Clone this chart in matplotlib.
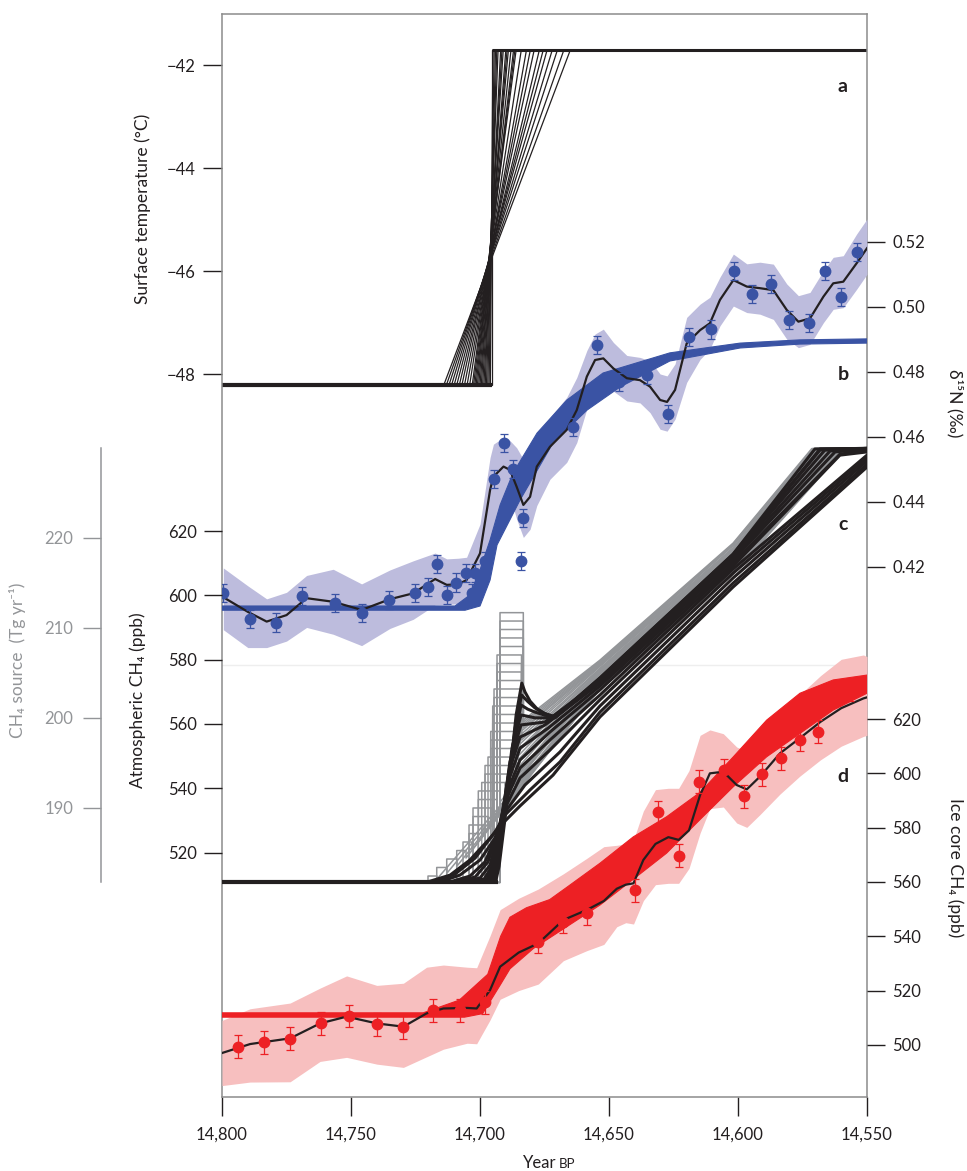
import numpy as np
import matplotlib.pyplot as plt
from matplotlib.ticker import FuncFormatter, FormatStrFormatter

plt.rcParams['font.family'] = ['Lato', 'DejaVu Sans']
plt.rcParams['axes.unicode_minus'] = True

INK = '#231f20'
SPINE = '#8c8c8c'
GREY = '#939598'
BLUE = '#3a53a4'
LAVENDER = '#bdbcdd'
RED = '#ed2024'
PINK = '#f7bfbf'

year_ticks = [14800, 14750, 14700, 14650, 14600, 14550]

# ---- a: surface temperature ramps (deg C)
temp_cold = -48.2
temp_warm = -41.7
ramp_start = [14695.5, 14696.0, 14696.5, 14697.0, 14697.5, 14698.0, 14698.5, 14699.0, 14699.5,
              14700.0, 14700.5, 14701.0, 14701.5, 14702.0, 14702.5, 14703.0, 14704.0, 14705.0,
              14706.0, 14707.0, 14708.0, 14709.0, 14710.0, 14711.0, 14712.0, 14713.0, 14714.0]
ramp_end = [14695.5, 14695.0, 14694.5, 14694.0, 14693.5, 14693.0, 14692.0, 14691.5, 14691.0,
            14690.0, 14689.5, 14689.0, 14688.0, 14687.0, 14686.5, 14686.0, 14684.0, 14682.0,
            14680.5, 14679.0, 14677.0, 14675.5, 14674.0, 14672.0, 14670.0, 14667.5, 14665.0]

# ---- b: d15N (permil)
n15_yr = [14799.5, 14789.1, 14779.1, 14768.9, 14756.2, 14745.9, 14735.4, 14725.1, 14720.3, 14716.7,
          14712.9, 14709.4, 14705.5, 14703.2, 14701.8, 14698.1, 14694.6, 14690.7, 14687.1, 14683.2,
          14684.1, 14663.8, 14654.8, 14646.0, 14635.4, 14627.3, 14619.0, 14610.5, 14601.6, 14594.4,
          14587.3, 14580.2, 14572.5, 14566.3, 14560.1, 14554.0]
n15_val = [0.4118, 0.4038, 0.4028, 0.4110, 0.4089, 0.4058, 0.4097, 0.4118, 0.4137, 0.4208,
           0.4113, 0.4151, 0.4180, 0.4120, 0.4180, 0.4218, 0.4469, 0.4580, 0.4500, 0.4349,
           0.4218, 0.4631, 0.4882, 0.4769, 0.4790, 0.4669, 0.4908, 0.4930, 0.5110, 0.5038,
           0.5070, 0.4959, 0.4951, 0.5110, 0.5029, 0.5169]
n15_err = 0.0028

n15_fit_yr = [14799.5, 14790.0, 14782.7, 14775.0, 14767.2, 14756.9, 14745.9, 14734.9, 14725.9, 14717.4,
              14712.9, 14708.4, 14705.2, 14700.0, 14696.1, 14694.8, 14690.9, 14688.4, 14685.8, 14683.2,
              14680.6, 14678.0, 14672.9, 14666.4, 14662.5, 14658.6, 14655.4, 14652.2, 14648.3, 14643.1,
              14638.0, 14634.1, 14630.2, 14627.5, 14624.4, 14619.9, 14614.7, 14610.9, 14607.0, 14601.8,
              14596.6, 14591.5, 14586.3, 14581.1, 14576.6, 14572.1, 14566.9, 14563.1, 14559.2, 14554.0,
              14550.0]
n15_fit = [0.4106, 0.4061, 0.4031, 0.4051, 0.4103, 0.4092, 0.4067, 0.4100, 0.4118, 0.4162,
           0.4144, 0.4146, 0.4159, 0.4241, 0.4436, 0.4477, 0.4508, 0.4498, 0.4446, 0.4390,
           0.4415, 0.4508, 0.4569, 0.4621, 0.4682, 0.4785, 0.4836, 0.4841, 0.4810, 0.4780,
           0.4774, 0.4754, 0.4713, 0.4707, 0.4744, 0.4887, 0.4928, 0.4949, 0.5021, 0.5082,
           0.5062, 0.5057, 0.5051, 0.4990, 0.4954, 0.4964, 0.5031, 0.5072, 0.5077, 0.5134,
           0.5180]
n15_hw_up = [0.009, 0.008, 0.007, 0.007, 0.007, 0.010, 0.008, 0.009, 0.010, 0.008,
             0.008, 0.008, 0.007, 0.009, 0.010, 0.010, 0.009, 0.009, 0.012, 0.014,
             0.014, 0.010, 0.009, 0.010, 0.010, 0.008, 0.008, 0.009, 0.008, 0.007,
             0.007, 0.008, 0.008, 0.008, 0.008, 0.008, 0.008, 0.008, 0.007, 0.008,
             0.007, 0.008, 0.008, 0.008, 0.008, 0.008, 0.008, 0.008, 0.008, 0.009,
             0.009]
n15_hw_lo = [0.010, 0.011, 0.008, 0.008, 0.009, 0.010, 0.011, 0.009, 0.008, 0.008,
             0.006, 0.006, 0.006, 0.012, 0.020, 0.015, 0.010, 0.008, 0.010, 0.010,
             0.010, 0.012, 0.010, 0.010, 0.010, 0.010, 0.009, 0.008, 0.007, 0.007,
             0.007, 0.008, 0.009, 0.009, 0.009, 0.012, 0.009, 0.008, 0.008, 0.008,
             0.008, 0.008, 0.009, 0.009, 0.008, 0.008, 0.008, 0.008, 0.008, 0.008,
             0.008]

n15_model_up_yr = [14800, 14709.7, 14703.9, 14700.0, 14696.1, 14692.2, 14687.2, 14677.9, 14666.3,
                   14652.3, 14626.4, 14599.2, 14576.0, 14550]
n15_model_up = [0.4079, 0.4079, 0.4113, 0.4190, 0.4282, 0.4390, 0.4488, 0.4611, 0.4713,
                0.4796, 0.4858, 0.4888, 0.4898, 0.4901]
n15_model_lo_yr = [14800, 14705.8, 14700.0, 14696.1, 14693.4, 14684.5, 14671.7, 14658.5, 14645.7,
                   14626.4, 14599.2, 14576.0, 14550]
n15_model_lo = [0.4066, 0.4066, 0.4079, 0.4159, 0.4267, 0.4405, 0.4581, 0.4682, 0.4753,
                0.4833, 0.4873, 0.4885, 0.4888]

# ---- c: CH4 source scenarios (Tg/yr)
src_base = 181.7
src_top = 229.9
pulse_start = [14692.25, 14692.25, 14692.25, 14692.25, 14692.25, 14693.41, 14693.41, 14693.41,
               14693.41, 14694.57, 14694.57, 14695.08, 14695.08, 14695.08, 14695.85, 14695.85,
               14695.85, 14696.90, 14698.06, 14698.06, 14699.34, 14700.66, 14700.66, 14702.71,
               14702.71, 14704.26, 14704.26, 14706.59, 14709.03, 14712.91, 14716.78, 14720.16]
pulse_end = [14683.22, 14683.22, 14683.22, 14683.22, 14683.22, 14683.91, 14683.91, 14683.91,
             14683.91, 14684.50, 14684.50, 14685.27, 14685.27, 14685.27, 14686.05, 14686.05,
             14686.05, 14687.21, 14688.37, 14689.15, 14690.31, 14692.25, 14693.41, 14695.35,
             14696.90, 14698.84, 14700.78, 14703.10, 14705.43, 14708.91, 14712.79, 14716.67]
pulse_peak = [211.67, 210.74, 209.80, 208.86, 207.91, 206.97, 206.02, 205.08,
              204.13, 203.19, 202.24, 201.30, 200.36, 199.41, 198.47, 197.52,
              196.58, 195.63, 194.69, 193.74, 192.80, 191.86, 190.91, 189.97,
              189.02, 188.08, 187.13, 186.19, 185.24, 184.30, 183.36, 182.41]
pulse_drop = [199.74, 199.52, 199.30, 199.08, 198.86, 198.52, 198.19, 197.86,
              197.52, 197.08, 196.63, 196.19, 195.74, 195.30, 194.74, 194.19,
              193.63, 193.08, 192.52, 191.97, 191.41, 190.63, 189.74, 188.86,
              187.97, 187.08, 186.19, 185.30, 184.41, 183.52, 182.74, 182.08]
ramp_nodes_yr = [14653.5, 14601.9]
src_mid1 = [206.4, 206.3, 206.2, 206.1, 206.0, 205.9, 205.8, 205.7, 205.5, 205.4, 205.3,
            205.2, 205.1, 205.0, 204.9, 204.8, 204.7, 204.6, 204.5, 204.4, 204.3, 204.2,
            204.0, 203.9, 203.8, 203.7, 203.6, 203.5, 203.4, 203.3, 203.2, 203.1]
src_mid2 = [219.4, 219.3, 219.2, 219.1, 218.9, 218.8, 218.7, 218.6, 218.5, 218.4, 218.3,
            218.2, 218.0, 217.9, 217.8, 217.7, 217.6, 217.5, 217.4, 217.2, 217.1, 217.0,
            216.9, 216.8, 216.7, 216.6, 216.4, 216.3, 216.2, 216.1, 216.0, 215.9]
src_top_yr = [14571.4, 14571.0, 14570.6, 14570.2, 14569.7, 14569.3, 14568.9, 14568.5, 14568.1,
              14567.7, 14567.2, 14566.8, 14566.4, 14566.0, 14565.6, 14565.2, 14564.8, 14564.3,
              14563.9, 14563.5, 14563.1, 14562.7, 14562.3, 14561.9, 14561.4, 14561.0, 14560.6,
              14560.2, 14559.8, 14559.4, 14558.9, 14558.5]

# ---- c: modelled atmospheric CH4 (ppb)
atm_base = 510.9
atm_runs = [
    [(14720.2, 510.9), (14711.6, 513.0), (14703.9, 517.7), (14696.1, 524.5), (14692.2, 528.3),
     (14684.5, 534.5), (14671.7, 544.1), (14653.5, 562.2), (14601.9, 602.6), (14550, 639.9)],
    [(14718.2, 510.9), (14709.7, 513.3), (14701.9, 518.3), (14694.2, 526.4), (14690.3, 531.7),
     (14680.6, 539.5), (14669.0, 548.2), (14653.5, 563.7), (14601.9, 603.8), (14550, 640.8)],
    [(14715.5, 510.9), (14707.8, 513.0), (14700.0, 517.7), (14694.2, 524.5), (14690.3, 532.6),
     (14682.6, 541.0), (14669.0, 551.3), (14653.5, 565.6), (14601.9, 605.4), (14550, 641.8)],
    [(14711.6, 510.9), (14703.9, 512.7), (14698.1, 517.1), (14693.4, 525.5), (14690.3, 533.9),
     (14684.5, 543.2), (14672.9, 551.9), (14653.5, 567.5), (14601.9, 606.9), (14550, 642.7)],
    [(14708.9, 510.9), (14701.9, 512.4), (14696.9, 517.1), (14693.0, 527.0), (14689.9, 536.4),
     (14684.5, 546.3), (14672.9, 555.0), (14653.5, 569.0), (14601.9, 608.2), (14550, 643.6)],
    [(14706.6, 510.9), (14700.0, 512.1), (14696.1, 516.1), (14692.6, 527.0), (14689.5, 538.8),
     (14684.5, 548.8), (14672.9, 557.5), (14653.5, 570.6), (14601.9, 609.1), (14560.5, 643.6),
     (14550, 644.6)],
    [(14703.9, 510.9), (14698.4, 511.8), (14695.3, 515.8), (14692.2, 528.6), (14689.1, 542.0),
     (14684.5, 552.5), (14673.6, 558.7), (14653.5, 571.8), (14601.9, 610.0), (14560.5, 643.9),
     (14550, 645.2)],
    [(14701.9, 510.9), (14697.3, 511.8), (14694.6, 515.8), (14691.9, 529.5), (14688.8, 545.1),
     (14684.5, 555.9), (14674.8, 559.7), (14653.5, 572.7), (14601.9, 611.0), (14562.4, 644.6),
     (14550, 645.5)],
    [(14700.0, 510.9), (14696.5, 511.8), (14694.2, 515.8), (14691.5, 530.1), (14688.4, 548.2),
     (14684.1, 559.7), (14674.8, 560.6), (14653.5, 573.4), (14601.9, 611.6), (14564.3, 644.9),
     (14550, 645.5)],
    [(14698.8, 510.9), (14695.7, 511.5), (14693.8, 515.8), (14691.1, 530.8), (14687.6, 552.5),
     (14684.1, 562.8), (14681.0, 562.3), (14678.7, 561.9), (14670.9, 561.9), (14653.5, 573.7),
     (14601.9, 612.2), (14566.3, 645.2), (14550, 645.7)],
    [(14697.3, 510.9), (14695.0, 511.5), (14693.4, 515.8), (14690.7, 531.7), (14686.8, 555.6),
     (14684.1, 565.9), (14681.5, 564.6), (14678.7, 563.7), (14674.8, 562.7), (14670.9, 562.2),
     (14653.5, 574.0), (14601.9, 612.5), (14568.2, 645.2), (14550, 645.7)],
    [(14696.1, 510.9), (14694.6, 511.5), (14693.0, 515.8), (14690.3, 532.6), (14686.4, 558.7),
     (14683.9, 569.0), (14681.5, 567.0), (14678.7, 565.0), (14675.0, 563.3), (14670.9, 562.2),
     (14653.5, 574.3), (14601.9, 612.8), (14568.2, 645.5), (14550, 645.7)],
    [(14694.6, 510.9), (14693.8, 511.5), (14692.6, 515.8), (14689.9, 533.2), (14686.0, 562.8),
     (14683.8, 572.7), (14682.6, 570.0), (14680.6, 567.1), (14677.9, 564.7), (14674.8, 563.1),
     (14670.9, 562.2), (14653.5, 574.3), (14601.9, 612.8), (14570.2, 645.5), (14550, 645.7)],
]

# ---- d: ice core CH4 (ppb)
ice_yr = [14793.9, 14783.6, 14773.6, 14761.6, 14750.7, 14740.0, 14730.0, 14718.1, 14707.8, 14698.1,
          14677.4, 14668.0, 14658.7, 14639.9, 14630.9, 14622.7, 14615.1, 14605.4, 14597.7, 14590.6,
          14583.3, 14576.0, 14569.1, 14562.7, 14556.6]
ice_val = [499.3, 500.9, 502.3, 507.9, 510.6, 507.5, 506.4, 512.8, 512.8, 515.7,
           538.0, 545.3, 548.4, 557.0, 585.6, 569.6, 596.9, 601.2, 591.6, 599.7,
           605.5, 612.3, 615.3, 628.8, 630.7]
ice_err = 4.2

ice_fit_yr = [14800, 14789.1, 14773.6, 14762.0, 14751.7, 14740.0, 14729.7, 14720.7, 14714.2, 14705.0,
              14701.3, 14696.1, 14692.2, 14685.0, 14677.4, 14667.7, 14658.6, 14652.0, 14647.0, 14643.5,
              14640.5, 14636.7, 14632.0, 14627.0, 14623.0, 14619.0, 14614.7, 14610.9, 14605.7, 14600.5,
              14596.6, 14591.5, 14583.7, 14576.0, 14568.0, 14560.0, 14551.4, 14550.0]
ice_fit = [497.0, 500.3, 502.4, 507.9, 510.4, 507.9, 506.7, 511.6, 513.4, 513.6,
           513.4, 520.2, 528.8, 534.0, 537.4, 546.0, 549.7, 553.0, 557.5, 559.0,
           559.5, 568.1, 574.0, 576.5, 575.5, 579.0, 592.0, 600.0, 600.6, 595.7,
           594.1, 598.8, 607.4, 613.0, 619.0, 624.0, 627.6, 628.0]
ice_hw_up = [12, 13, 13, 13, 15, 14, 16, 17, 16, 15,
             15, 20, 21, 20, 20, 17, 19, 20, 16, 15,
             16, 18, 20, 18, 19, 22, 22, 16, 14, 14,
             14, 14, 13, 16, 17, 18, 16, 15]
ice_hw_lo = [12, 14, 16, 14, 15, 15, 15, 16, 15, 13,
             13, 11, 12, 14, 15, 15, 15, 16, 14, 14,
             15, 15, 15, 17, 16, 14, 14, 13, 13, 14,
             14, 14, 15, 14, 14, 14, 14, 14]

ice_model_up_yr = [14800, 14722.0, 14708.0, 14697.0, 14692.0, 14688.4, 14682.0, 14673.0, 14666.4,
                   14653.5, 14640.6, 14627.7, 14614.7, 14601.8, 14588.9, 14576.0, 14563.1, 14550]
ice_model_up = [511.8, 511.8, 516.5, 526.0, 540.0, 547.0, 550.5, 553.5, 558.0,
                566.9, 576.6, 584.0, 593.0, 606.1, 619.6, 629.5, 634.4, 636.2]
ice_model_lo_yr = [14800, 14706.0, 14699.0, 14692.2, 14688.4, 14679.3, 14666.4, 14653.5, 14640.6,
                   14627.7, 14614.7, 14601.8, 14588.9, 14576.0, 14563.1, 14550]
ice_model_lo = [510.2, 510.2, 511.5, 522.0, 528.0, 535.5, 543.5, 551.5, 561.0,
                570.6, 583.0, 595.1, 606.1, 614.7, 623.3, 629.5]

# ------------------------------------------------------------------
fig = plt.figure(figsize=(9.67, 11.71), dpi=100)
box = [0.2296, 0.0632, 0.6670, 0.9249]
XLIM = (14800, 14550)


def overlay(ylim):
    ax = fig.add_axes(box)
    ax.set_facecolor('none')
    ax.set_xlim(*XLIM)
    ax.set_ylim(*ylim)
    for s in ax.spines.values():
        s.set_visible(False)
    ax.set_xticks([])
    ax.tick_params(axis='y', direction='out', length=13, width=1, color=INK,
                   labelsize=12, labelcolor=INK, pad=5)
    return ax


# frame + panel a
ax_a = fig.add_axes(box)
ax_a.set_xlim(*XLIM)
ax_a.set_ylim(-62.03, -41.0)
for s in ax_a.spines.values():
    s.set_color(SPINE)
    s.set_linewidth(1.1)
ax_a.set_xticks(year_ticks)
ax_a.xaxis.set_major_formatter(FuncFormatter(lambda v, p: f'{int(v):,}'))
ax_a.set_yticks([-48, -46, -44, -42])
ax_a.tick_params(direction='out', length=14, width=1, color=INK, labelsize=12, labelcolor=INK)
ax_a.tick_params(axis='x', pad=7)
ax_a.tick_params(axis='y', pad=5)
ax_a.axhline(-53.64, color='#eeeeee', lw=1, zorder=0)

for t0, t1 in zip(ramp_start, ramp_end):
    ax_a.plot([XLIM[0], t0, t1, XLIM[1]], [temp_cold, temp_cold, temp_warm, temp_warm],
              color=INK, lw=0.9, solid_joinstyle='miter')
ax_a.plot([XLIM[0], min(ramp_start)], [temp_cold, temp_cold], color=INK, lw=3, solid_capstyle='butt')
ax_a.plot([max(ramp_end), XLIM[1]], [temp_warm, temp_warm], color=INK, lw=2.2, solid_capstyle='butt')

# panel b
ax_b = overlay((0.2568, 0.5901))
ax_b.yaxis.tick_right()
ax_b.set_yticks([0.42, 0.44, 0.46, 0.48, 0.50, 0.52])
ax_b.yaxis.set_major_formatter(FormatStrFormatter('%.2f'))
fit_b = np.array(n15_fit)
ax_b.fill_between(n15_fit_yr, fit_b - np.array(n15_hw_lo), fit_b + np.array(n15_hw_up),
                  color=LAVENDER, lw=0)
ax_b.plot(n15_fit_yr, n15_fit, color=INK, lw=1.6)
ax_b.errorbar(n15_yr, n15_val, yerr=n15_err, fmt='o', ms=7.5, color=BLUE, ecolor=BLUE,
              elinewidth=0.9, capsize=3, capthick=0.9)
ax_b.fill(np.r_[n15_model_up_yr, n15_model_lo_yr[::-1]], np.r_[n15_model_up, n15_model_lo[::-1]],
          color=BLUE, lw=0.8)

# panel c: source axis (grey)
ax_s = overlay((157.86, 278.19))
ax_s.spines['left'].set_visible(True)
ax_s.spines['left'].set_position(('axes', -0.1876))
ax_s.spines['left'].set_bounds(181.7, 230.0)
ax_s.spines['left'].set_color(GREY)
ax_s.spines['left'].set_linewidth(1.1)
ax_s.set_yticks([190, 200, 210, 220])
ax_s.tick_params(axis='y', color=GREY, labelcolor=GREY, length=13, pad=7)
for k in range(len(pulse_start)):
    xs = [XLIM[0], pulse_start[k], pulse_start[k], pulse_end[k], pulse_end[k],
          ramp_nodes_yr[0], ramp_nodes_yr[1], src_top_yr[k], XLIM[1]]
    ys = [src_base, src_base, pulse_peak[k], pulse_peak[k], pulse_drop[k],
          src_mid1[k], src_mid2[k], src_top, src_top]
    ax_s.plot(xs, ys, color=GREY, lw=1.1)

# panel c: atmospheric CH4 (black)
ax_c = overlay((444.0, 780.8))
ax_c.set_yticks([520, 540, 560, 580, 600, 620])
for run in atm_runs:
    yr, v = zip(*run)
    ax_c.plot([XLIM[0]] + list(yr), [atm_base] + list(v), color=INK, lw=2.2)
ax_c.plot([XLIM[0], 14693.0], [atm_base, atm_base], color=INK, lw=3, solid_capstyle='butt')

# panel d
ax_d = overlay((480.8, 879.7))
ax_d.yaxis.tick_right()
ax_d.set_yticks([500, 520, 540, 560, 580, 600, 620])
fit_d = np.array(ice_fit)
ax_d.fill_between(ice_fit_yr, fit_d - np.array(ice_hw_lo), fit_d + np.array(ice_hw_up),
                  color=PINK, lw=0)
ax_d.plot(ice_fit_yr, ice_fit, color=INK, lw=1.6)
ax_d.errorbar(ice_yr, ice_val, yerr=ice_err, fmt='o', ms=7.5, color=RED, ecolor=RED,
              elinewidth=0.9, capsize=3, capthick=0.9)
ax_d.fill(np.r_[ice_model_up_yr, ice_model_lo_yr[::-1]], np.r_[ice_model_up, ice_model_lo[::-1]],
          color=RED, lw=0.8)

# labels
W, H = 967.0, 1171.0
lab = dict(fontsize=12.5, color=INK, ha='center', va='center')
fig.text(143 / W, 1 - 209 / H, 'Surface temperature (°C)', rotation=90, **lab)
fig.text(138 / W, 1 - 700 / H, 'Atmospheric CH₄ (ppb)', rotation=90, **lab)
fig.text(18 / W, 1 - 660 / H, 'CH₄ source  (Tg yr⁻¹)', rotation=90,
         fontsize=12.5, color=GREY, ha='center', va='center')
fig.text(955 / W, 1 - 403 / H, 'δ¹⁵N (‰)', rotation=270, **lab)
fig.text(955 / W, 1 - 868 / H, 'Ice core CH₄ (ppb)', rotation=270, **lab)
fig.text(556 / W, 1 - 1168 / H, 'Year', fontsize=12, color=INK, ha='right', va='baseline')
fig.text(559 / W, 1 - 1168 / H, 'BP', fontsize=9.5, color=INK, ha='left', va='baseline')
for letter, yy in [('a', 87), ('b', 375), ('c', 525), ('d', 777)]:
    fig.text(843 / W, 1 - yy / H, letter, fontsize=14, fontweight='bold', color=INK,
             ha='center', va='center')

fig.savefig('out.png', dpi=100)
